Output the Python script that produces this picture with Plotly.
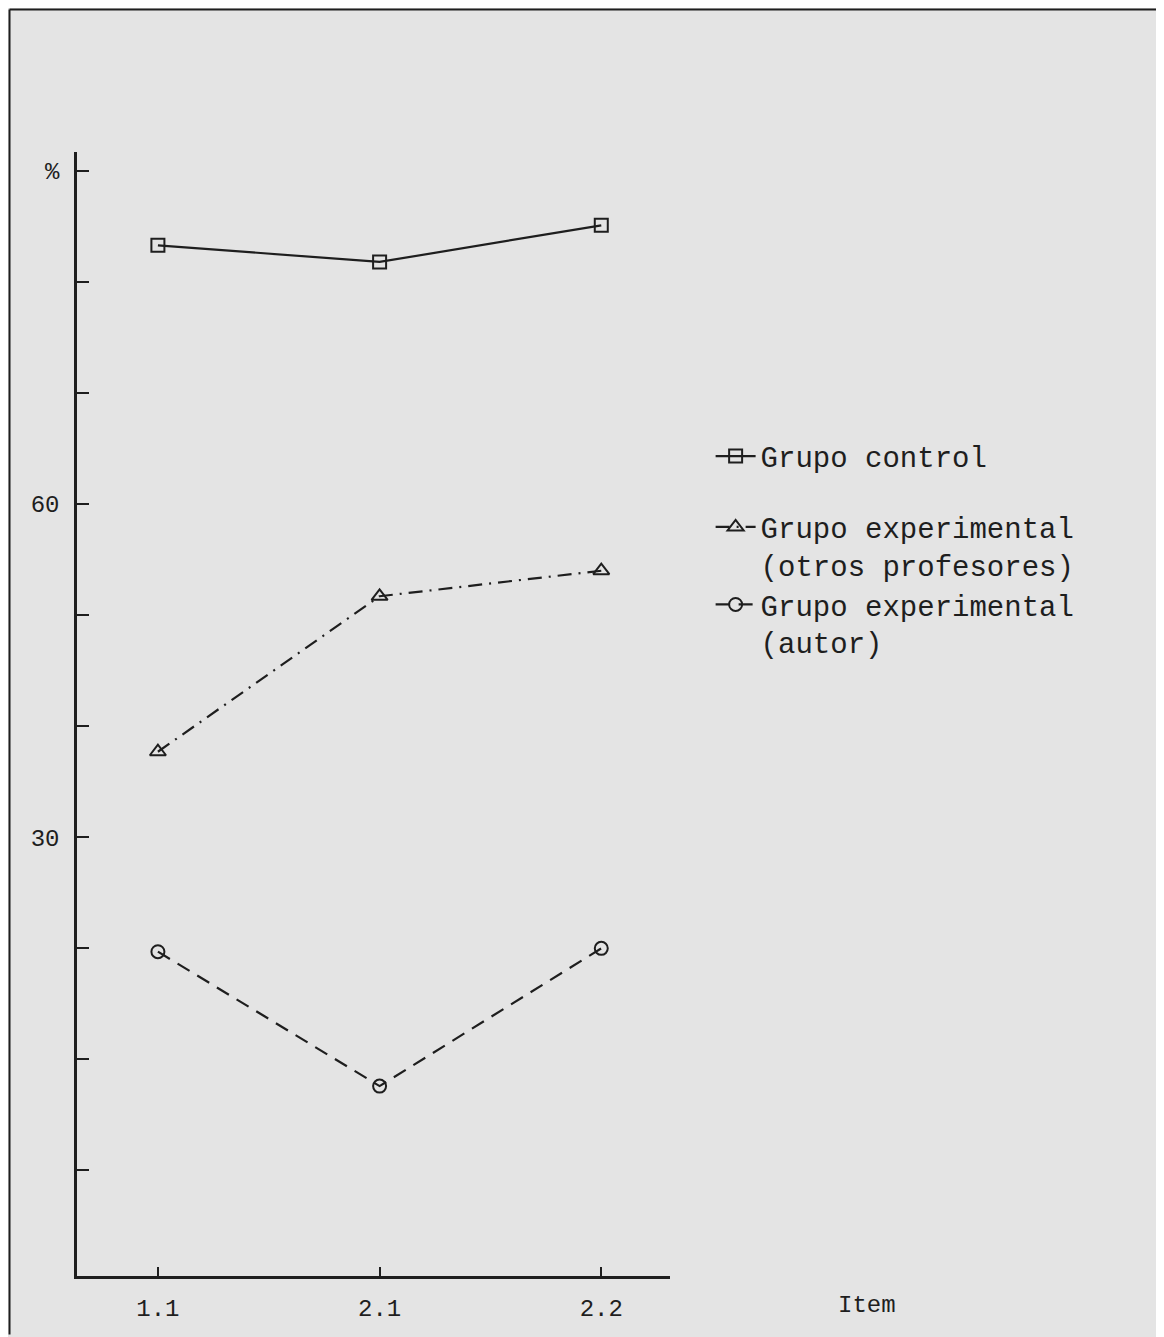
import plotly.graph_objects as go

items = ["1.1", "2.1", "2.2"]
control = [83.3, 81.8, 85.1]
exp_otros = [37.7, 51.7, 54.0]
exp_autor = [19.7, 7.6, 20.0]

y_tickvals = [0, 10, 20, 30, 40, 50, 60, 70, 80, 90]
y_ticktext = ["", "", "", "30", "", "", "60", "", "", "%"]

ink = "#1e1e1e"
bg = "#e4e4e4"
font_fam = "Liberation Mono, Courier New, monospace"

fig = go.Figure()
fig.add_trace(go.Scatter(
    x=items, y=control, mode="lines+markers", name="Grupo control",
    line=dict(color=ink, width=2.2, dash="solid"),
    marker=dict(symbol="square-open", size=13, color=ink, line=dict(width=2)),
    legend="legend",
))
fig.add_trace(go.Scatter(
    x=items, y=exp_otros, mode="lines+markers",
    name="Grupo experimental<br>(otros profesores)",
    line=dict(color=ink, width=2.2, dash="14px,7px,2px,7px"),
    marker=dict(symbol="triangle-up-open", size=14, color=ink, line=dict(width=2)),
    legend="legend2",
))
fig.add_trace(go.Scatter(
    x=items, y=exp_autor, mode="lines+markers",
    name="Grupo experimental<br>(autor)",
    line=dict(color=ink, width=2.2, dash="14px,9px"),
    marker=dict(symbol="circle-open", size=13, color=ink, line=dict(width=2)),
    legend="legend3",
))

leg_common = dict(
    xanchor="left", yanchor="top", bgcolor="rgba(0,0,0,0)",
    font=dict(family=font_fam, size=29, color=ink),
    valign="top", itemwidth=40,
)

fig.update_layout(
    width=1156, height=1329,
    paper_bgcolor=bg, plot_bgcolor=bg,
    margin=dict(l=69, r=494, t=144, b=61, autoexpand=False),
    font=dict(family=font_fam, color=ink, size=24),
    showlegend=True,
    legend=dict(x=1.0685, y=0.752, **leg_common),
    legend2=dict(x=1.0685, y=0.689, **leg_common),
    legend3=dict(x=1.0685, y=0.620, **leg_common),
    xaxis=dict(
        type="category", range=[-0.365, 2.31], automargin=False,
        showline=True, linecolor=ink, linewidth=2.5,
        ticks="inside", ticklen=9, tickwidth=2, tickcolor=ink,
        showgrid=False, zeroline=False,
        tickfont=dict(family=font_fam, size=24, color=ink),
        ticklabelstandoff=8,
    ),
    yaxis=dict(
        range=[-9.5, 91.7], automargin=False,
        tickmode="array", tickvals=y_tickvals, ticktext=y_ticktext,
        showline=True, linecolor=ink, linewidth=2.5,
        ticks="inside", ticklen=12, tickwidth=2, tickcolor=ink,
        showgrid=False, zeroline=False,
        tickfont=dict(family=font_fam, size=24, color=ink),
        ticklabelstandoff=10,
    ),
    annotations=[
        dict(text="Item", xref="paper", yref="paper", x=1.333, y=0,
             xanchor="center", yanchor="top", yshift=-14, showarrow=False,
             font=dict(family=font_fam, size=24, color=ink)),
    ],
    shapes=[
        dict(type="line", xref="paper", yref="paper", x0=-0.1138, x1=1.83, y0=1.1268, y1=1.1268,
             line=dict(color=ink, width=2)),
        dict(type="line", xref="paper", yref="paper", x0=-0.1138, x1=-0.1138, y0=1.1268, y1=-0.052,
             line=dict(color=ink, width=2)),
    ],
)

fig.write_html("out.html")
